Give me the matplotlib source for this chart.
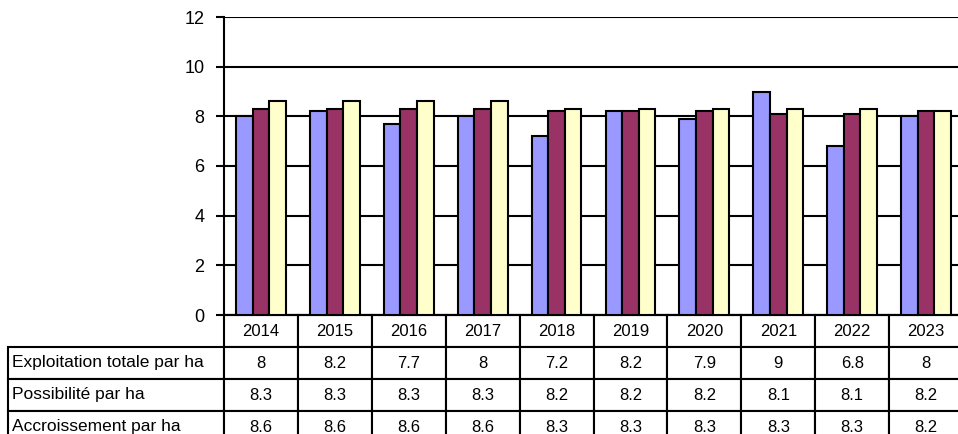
import matplotlib
matplotlib.use("Agg")
import matplotlib.pyplot as plt
from matplotlib.table import Table
import numpy as np

plt.rcParams['font.family'] = ['Liberation Sans', 'DejaVu Sans']

# Données
annees = ['2014', '2015', '2016', '2017', '2018', '2019', '2020', '2021', '2022', '2023']
exploitation = [8, 8.2, 7.7, 8, 7.2, 8.2, 7.9, 9, 6.8, 8]
possibilite = [8.3, 8.3, 8.3, 8.3, 8.2, 8.2, 8.2, 8.1, 8.1, 8.2]
accroissement = [8.6, 8.6, 8.6, 8.6, 8.3, 8.3, 8.3, 8.3, 8.3, 8.2]
noms_series = ['Exploitation totale par ha', 'Possibilité par ha', 'Accroissement par ha']
couleurs = ['#9999FF', '#993366', '#FFFFCC']
y_ticks = [0, 2, 4, 6, 8, 10, 12]


def ve_bieu_do():
    W, H = 958, 434
    fig = plt.figure(figsize=(W / 100, H / 100), dpi=100)
    # zone du graphique (en pixels)
    x0, x1 = 224, 963
    y_top, y_bot = 17, 315
    ax = fig.add_axes([x0 / W, (H - y_bot) / H, (x1 - x0) / W, (y_bot - y_top) / H])

    x = np.arange(len(annees))
    largeur = 0.225
    series = [exploitation, possibilite, accroissement]
    for k, (vals, coul) in enumerate(zip(series, couleurs)):
        ax.bar(x + (k - 1) * largeur, vals, width=largeur, color=coul,
               edgecolor='black', linewidth=1.5, zorder=3)

    ax.set_xlim(-0.5, len(annees) - 0.5)
    ax.set_ylim(0, 12)
    ax.set_yticks(y_ticks)
    ax.set_xticks([])
    ax.tick_params(axis='y', labelsize=13, length=6, width=1.5, direction='out', pad=8)
    ax.grid(axis='y', color='black', linewidth=1.5, zorder=1)
    for s in ['top', 'right']:
        ax.spines[s].set_visible(False)
    for s in ['left', 'bottom']:
        ax.spines[s].set_linewidth(1.5)

    # Tableau de données sous le graphique
    row_h = 32
    label_w = x0 - 8
    col_w = (x1 - x0) / len(annees)
    ax_w = x1 - x0
    ax_h = y_bot - y_top
    bbox = [-label_w / ax_w, -4 * row_h / ax_h, (ax_w + label_w) / ax_w, 4 * row_h / ax_h]
    tab = Table(ax, bbox=bbox)
    for j, an in enumerate(annees):
        tab.add_cell(0, j + 1, width=col_w, height=row_h, text=an, loc='center')
    labels = []
    for i, (nom, vals) in enumerate(zip(noms_series, series)):
        c = tab.add_cell(i + 1, 0, width=label_w, height=row_h, text=nom, loc='left')
        c.PAD = 0.02
        labels.append(c)
        for j, v in enumerate(vals):
            tab.add_cell(i + 1, j + 1, width=col_w, height=row_h, text=f"{v:g}", loc='center')
    tab.auto_set_font_size(False)
    tab.set_fontsize(12)
    for c in labels:
        c.get_text().set_fontsize(12.5)
    for cell in tab.get_celld().values():
        cell.set_linewidth(1.5)
        cell.set_edgecolor('black')
        cell.set_clip_on(False)
    ax.add_table(tab)

    fig.savefig('out.png', dpi=100)


if __name__ == "__main__":
    ve_bieu_do()
